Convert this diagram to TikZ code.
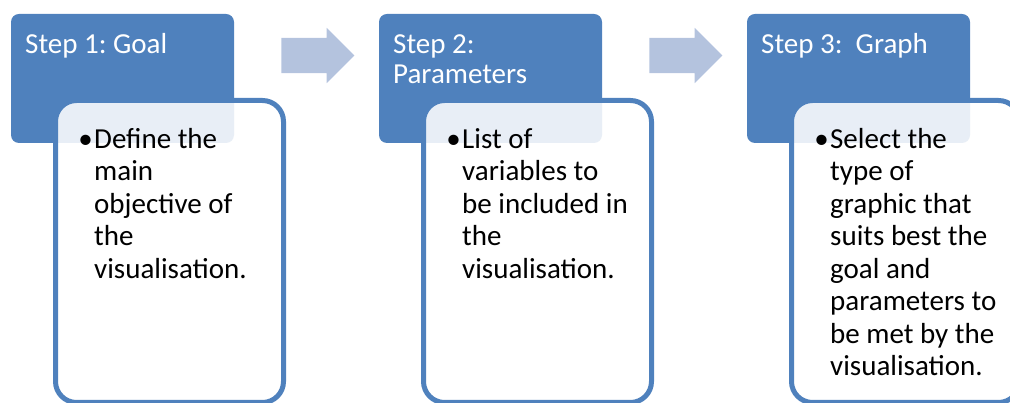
\documentclass[tikz,border=0pt]{standalone}
\usepackage{fontspec}
\setmainfont{Carlito}
\frenchspacing
\usetikzlibrary{shapes.arrows, calc}
\definecolor{stepblue}{HTML}{4F81BD}
\definecolor{linkblue}{HTML}{B4C3DE}
\tikzstyle{stepbox} = [rectangle, rounded corners=8pt, minimum width=223pt, minimum height=129pt, inner sep=0pt, outer sep=0pt, fill=stepblue]
\tikzstyle{detail} = [rectangle, rounded corners=21pt, minimum width=228pt, minimum height=302pt, inner sep=0pt, outer sep=0pt, draw=stepblue, line width=5pt, fill=white, fill opacity=0.87]
\tikzstyle{steptitle} = [anchor=north west, align=left, inner sep=0pt, text=white, font=\fontsize{29}{30}\selectfont]
\tikzstyle{steptext} = [anchor=north west, align=left, inner sep=0pt, text=black, font=\fontsize{29}{32.5}\selectfont]
\tikzstyle{blockarrow} = [single arrow, fill=linkblue, minimum height=73pt, minimum width=0pt, single arrow head extend=10pt, inner xsep=0pt, inner ysep=17.5pt, outer sep=0pt]

\begin{document}
\begin{tikzpicture}[x=1pt, y=1pt, node distance=368pt]
\clip (0,0) rectangle (1010,403);
\node (step1) [stepbox] at (122.5,324.5) {};
\node (step2) [stepbox, right of=step1] {};
\node (step3) [stepbox, right of=step2] {};

\node (det1) [detail, anchor=north west, xshift=44.5pt, yshift=-86.5pt] at (step1.north west) {};
\node (det2) [detail, anchor=north west, xshift=44.5pt, yshift=-86.5pt] at (step2.north west) {};
\node (det3) [detail, anchor=north west, xshift=44.5pt, yshift=-86.5pt] at (step3.north west) {};

\node (arr1) [blockarrow] at ($(step1.north east)!0.5!(step2.north west)+(2.5,-41.5)$) {};
\node (arr2) [blockarrow] at ($(step2.north east)!0.5!(step3.north west)+(2.5,-41.5)$) {};

\node (title1) [steptitle, xshift=14pt, yshift=-18pt] at (step1.north west) {\strut Step 1: Goal};
\node (title2) [steptitle, xshift=14pt, yshift=-18pt] at (step2.north west) {\strut Step 2:\\Parameters};
\node (title3) [steptitle, xshift=14pt, yshift=-18pt] at (step3.north west) {\strut Step 3:\ \ Graph};

\node (text1) [steptext, xshift=38.5pt, yshift=-24.75pt] at (det1.north west) {\strut\llap{\textbullet\hspace{1.5pt}}Define the\\main\\objective of\\the\\visualisation.};
\node (text2) [steptext, xshift=38.5pt, yshift=-24.75pt] at (det2.north west) {\strut\llap{\textbullet\hspace{1.5pt}}List of\\variables to\\be included in\\the\\visualisation.};
\node (text3) [steptext, xshift=38.5pt, yshift=-24.75pt] at (det3.north west) {\strut\llap{\textbullet\hspace{1.5pt}}Select the\\type of\\graphic that\\suits best the\\goal and\\parameters to\\be met by the\\visualisation.};
\end{tikzpicture}
\end{document}
